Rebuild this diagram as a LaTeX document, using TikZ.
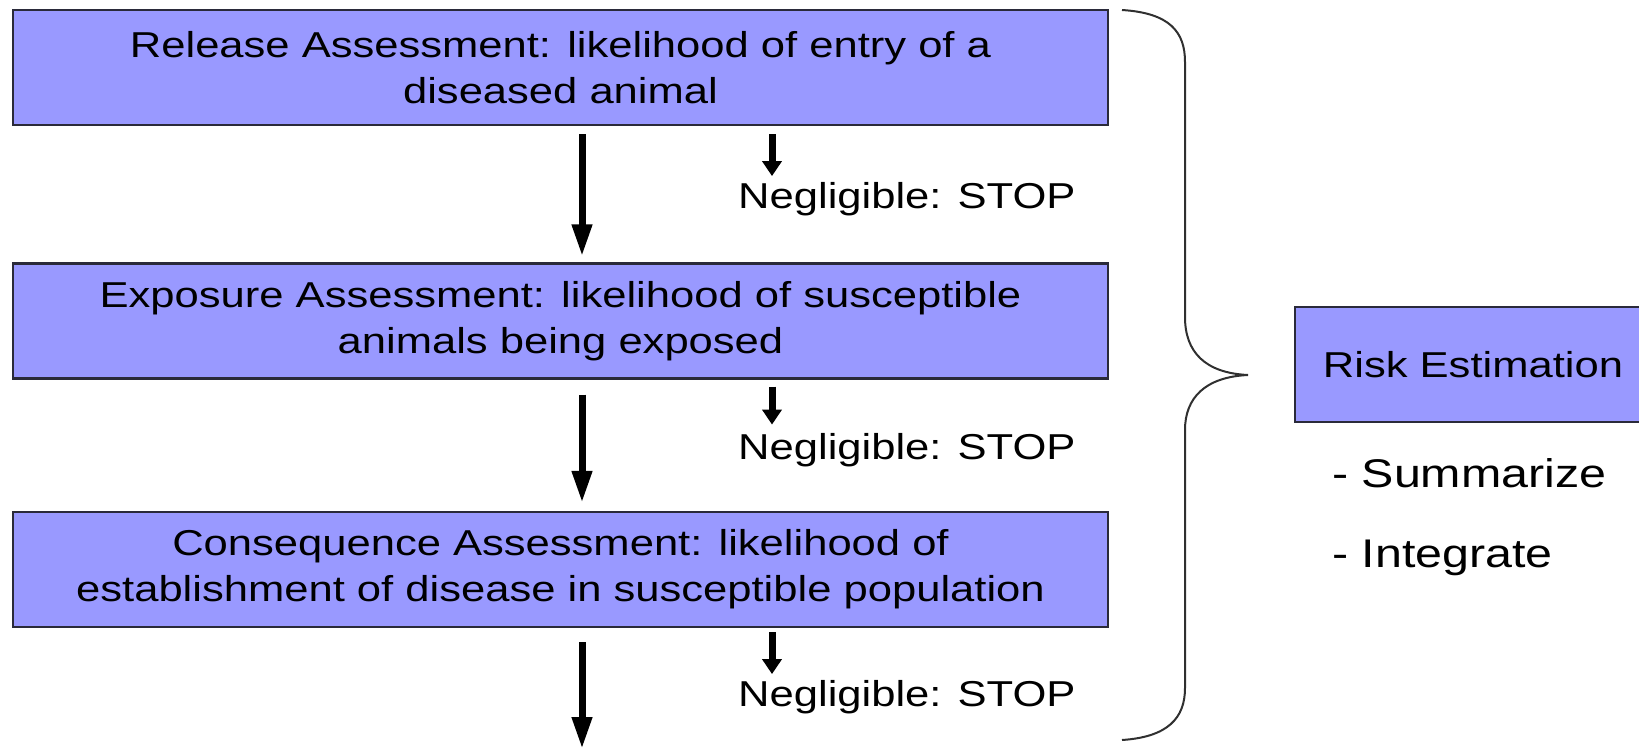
\documentclass[tikz,border=0pt]{standalone}
\usepackage{fontspec}
\setmainfont[FakeStretch=1.21]{Liberation Sans}
\usetikzlibrary{arrows.meta,calc}
\definecolor{boxfill}{HTML}{9999FF}
\definecolor{boxline}{HTML}{2A2A3A}
\definecolor{braceline}{HTML}{303030}
\begin{document}
\begin{tikzpicture}[x=1pt,y=-1pt,
  stage/.style={draw=boxline, line width=2.2pt, fill=boxfill,
    minimum width=1095pt, minimum height=115pt, inner sep=0pt,
    align=center, font=\fontsize{36}{46}\selectfont},
  note/.style={inner sep=0pt, anchor=base west, font=\fontsize{36}{46}\selectfont},
  listitem/.style={inner sep=0pt, anchor=base west, font=\fontsize{40}{48}\selectfont},
  bigarrow/.style={line width=7pt, -{Triangle[length=32pt,width=19pt]}},
  smallarrow/.style={line width=7pt, -{Triangle[length=15pt,width=19pt]}},
  bracepath/.style={draw=braceline, line width=2pt}]
\useasboundingbox (0,0) rectangle (1639,749);

% the three assessment stages
\node[stage] (rel) at (560.5,67.5)
  {Release Assessment: likelihood of entry of a\\diseased animal};
\node[stage] (exp) at (560.5,321)
  {Exposure Assessment: likelihood of susceptible\\animals being exposed};
\node[stage] (con) at (560.5,569.5)
  {Consequence Assessment: likelihood of\\establishment of disease in susceptible population};

% early exits
\node[note] (neg1) at ($(rel.south)+(177.5,82)$) {Negligible: STOP};
\node[note] (neg2) at ($(exp.south)+(177.5,80)$) {Negligible: STOP};
\node[note] (neg3) at ($(con.south)+(177.5,78)$) {Negligible: STOP};

\draw[smallarrow] ($(rel.south -| neg1.west)+(34,8)$) -- ($(neg1.base west)+(34,-32)$);
\draw[smallarrow] ($(exp.south -| neg2.west)+(34,7)$) -- ($(neg2.base west)+(34,-35)$);
\draw[smallarrow] ($(con.south -| neg3.west)+(34,4)$) -- ($(neg3.base west)+(34,-32)$);

% main flow
\coordinate (out) at (582,749);
\draw[bigarrow] ($(rel.south)+(21.5,8)$) -- ($(exp.north)+(21.5,-6)$);
\draw[bigarrow] ($(exp.south)+(21.5,15)$) -- ($(con.north)+(21.5,-8)$);
\draw[bigarrow] ($(con.south)+(21.5,14)$) -- (out);

% brace gathering the stages
\draw[bracepath] (1122,10) .. controls (1170,13) and (1185,32) .. (1185,62)
  -- (1185,317) .. controls (1185,352) and (1205,373) .. (1248,375)
  .. controls (1205,377) and (1185,398) .. (1185,430)
  -- (1185,688) .. controls (1185,718) and (1168,737) .. (1122,740);

% estimation
\node[stage, minimum width=356pt, minimum height=115pt] (risk) at (1473,364.5) {Risk Estimation};
\node[listitem] (sum) at (1332,487) {- Summarize};
\node[listitem] (int) at (1332,567) {- Integrate};
\end{tikzpicture}
\end{document}
